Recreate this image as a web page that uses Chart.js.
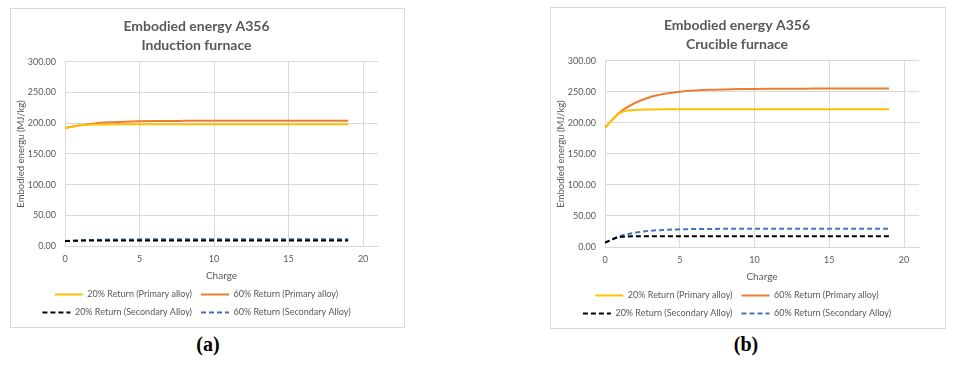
<!DOCTYPE html>
<html>
<head>
<meta charset="utf-8">
<script src="https://cdn.jsdelivr.net/npm/chart.js@4.4.1/dist/chart.umd.min.js"></script>
<style>
  body { margin: 0; width: 960px; height: 367px; background: #fff; position: relative; overflow: hidden; }
  .panel { position: absolute; border: 1px solid #d9d9d9; background: #fff; }
  .panel canvas { display: block; }
  .caption { position: absolute; width: 60px; text-align: center; font-family: "Liberation Serif", "DejaVu Serif", serif; font-weight: bold; font-size: 20px; color: #000; }
</style>
</head>
<body>
<div class="panel" style="left:10px; top:8px; width:393px; height:318px;"><canvas id="chartA" width="393" height="318"></canvas></div>
<div class="caption" style="left:178px; top:333px;">(a)</div>
<div class="panel" style="left:550px; top:7px; width:394px; height:320px;"><canvas id="chartB" width="394" height="320"></canvas></div>
<div class="caption" style="left:716px; top:333px;">(b)</div>
<script>
const charges = [0, 1, 2, 3, 4, 5, 6, 7, 8, 9, 10, 11, 12, 13, 14, 15, 16, 17, 18, 19];
const seriesLabels = [
  "20% Return (Primary alloy)",
  "60% Return (Primary alloy)",
  "20% Return (Secondary Alloy)",
  "60% Return (Secondary Alloy)"
];
const yTicks = [0, 50, 100, 150, 200, 250, 300];
const xTicks = [0, 5, 10, 15, 20];

// (a) induction furnace
const inductionPrimary20 = [192, 196.5, 197.8, 198, 198.2, 198.2, 198.2, 198.2, 198.2, 198.2, 198.2, 198.2, 198.2, 198.2, 198.2, 198.2, 198.2, 198.2, 198.2, 198.2];
const inductionPrimary60 = [192, 196.8, 199.7, 201.4, 202.4, 203.1, 203.5, 203.7, 203.8, 203.9, 204, 204, 204, 204, 204, 204, 204, 204, 204, 204];
const inductionSecondary20 = [8, 8.8, 9, 9.1, 9.1, 9.1, 9.1, 9.1, 9.1, 9.1, 9.1, 9.1, 9.1, 9.1, 9.1, 9.1, 9.1, 9.1, 9.1, 9.1];
const inductionSecondary60 = [8, 9.2, 9.9, 10.4, 10.6, 10.8, 10.9, 10.9, 11, 11, 11, 11, 11, 11, 11, 11, 11, 11, 11, 11];

// (b) crucible furnace
const cruciblePrimary20 = [192, 216, 220.8, 221.6, 221.8, 221.8, 221.8, 221.8, 221.8, 221.8, 221.8, 221.8, 221.8, 221.8, 221.8, 221.8, 221.8, 221.8, 221.8, 221.8];
const cruciblePrimary60 = [192, 217, 232, 241.4, 246.8, 250.1, 252, 253.2, 253.9, 254.4, 254.7, 254.9, 255, 255.1, 255.2, 255.2, 255.2, 255.2, 255.2, 255.2];
const crucibleSecondary20 = [7, 16.2, 17.2, 17.4, 17.4, 17.4, 17.4, 17.4, 17.4, 17.4, 17.4, 17.4, 17.4, 17.4, 17.4, 17.4, 17.4, 17.4, 17.4, 17.4];
const crucibleSecondary60 = [7, 17.5, 23, 26, 27.6, 28.4, 28.9, 29.1, 29.3, 29.4, 29.4, 29.5, 29.5, 29.5, 29.5, 29.5, 29.5, 29.5, 29.5, 29.5];

const seriesColors = ["#FFC000", "#ED7D31", "#000000", "#4472C4"];
const seriesDashes = [[], [], [5, 3], [5, 3]];
const fontFamily = "Lato, 'Liberation Sans', Arial, sans-serif";
const textColor = "#595959";
const gridColor = "#d9d9d9";

function buildDatasets(valueLists) {
  return valueLists.map((values, index) => {
    return {
      label: seriesLabels[index],
      data: charges.map((charge, i) => ({ x: charge, y: values[i] })),
      borderColor: seriesColors[index],
      backgroundColor: seriesColors[index],
      borderDash: seriesDashes[index],
      borderWidth: 2,
      pointRadius: 0,
      cubicInterpolationMode: "monotone"
    };
  });
}

// legend point style ignores borderDash, so copy it over
function legendLabels(chart) {
  const items = Chart.defaults.plugins.legend.labels.generateLabels(chart);
  items.forEach((item) => {
    item.lineDash = chart.data.datasets[item.datasetIndex].borderDash;
  });
  return items;
}

function drawPanel(canvasId, subtitle, valueLists) {
  const ctx = document.getElementById(canvasId).getContext("2d");
  return new Chart(ctx, {
    type: "line",
    data: { datasets: buildDatasets(valueLists) },
    options: {
      responsive: false,
      animation: false,
      layout: { padding: { left: 4, right: 26, top: 0, bottom: 0 } },
      plugins: {
        title: {
          display: true,
          text: ["Embodied energy A356", subtitle],
          color: textColor,
          font: { family: fontFamily, size: 14, weight: "bold", lineHeight: 1.35 },
          padding: { top: 8, bottom: 7 }
        },
        legend: {
          position: "bottom",
          labels: {
            color: textColor,
            font: { family: fontFamily, size: 9 },
            usePointStyle: true,
            pointStyle: "line",
            pointStyleWidth: 28,
            boxWidth: 28,
            padding: 9,
            generateLabels: legendLabels
          }
        },
        tooltip: { enabled: false }
      },
      scales: {
        x: {
          type: "linear",
          min: 0,
          max: 21,
          afterBuildTicks: function (scale) {
            scale.ticks = xTicks.map((value) => ({ value }));
          },
          grid: { color: gridColor, drawTicks: false },
          border: { color: gridColor },
          ticks: { color: textColor, font: { family: fontFamily, size: 9, lineHeight: 1 }, padding: 9 },
          title: {
            display: true,
            text: "Charge",
            color: textColor,
            font: { family: fontFamily, size: 10, lineHeight: 1 },
            padding: { top: -2, bottom: 0 }
          }
        },
        y: {
          min: 0,
          max: 300,
          afterBuildTicks: function (scale) {
            scale.ticks = yTicks.map((value) => ({ value }));
          },
          afterFit: function (scale) {
            scale.width = 50;
          },
          grid: { color: gridColor, drawTicks: false },
          border: { color: gridColor },
          ticks: {
            color: textColor,
            font: { family: fontFamily, size: 9 },
            padding: 9,
            callback: function (value) {
              return Number(value).toFixed(2);
            }
          },
          title: {
            display: true,
            text: "Embodied energu (MJ/kg)",
            color: textColor,
            font: { family: fontFamily, size: 9.5 },
            padding: { top: 0, bottom: 0 }
          }
        }
      }
    }
  });
}

drawPanel("chartA", "Induction furnace", [inductionPrimary20, inductionPrimary60, inductionSecondary20, inductionSecondary60]);
drawPanel("chartB", "Crucible furnace", [cruciblePrimary20, cruciblePrimary60, crucibleSecondary20, crucibleSecondary60]);
</script>
</body>
</html>
